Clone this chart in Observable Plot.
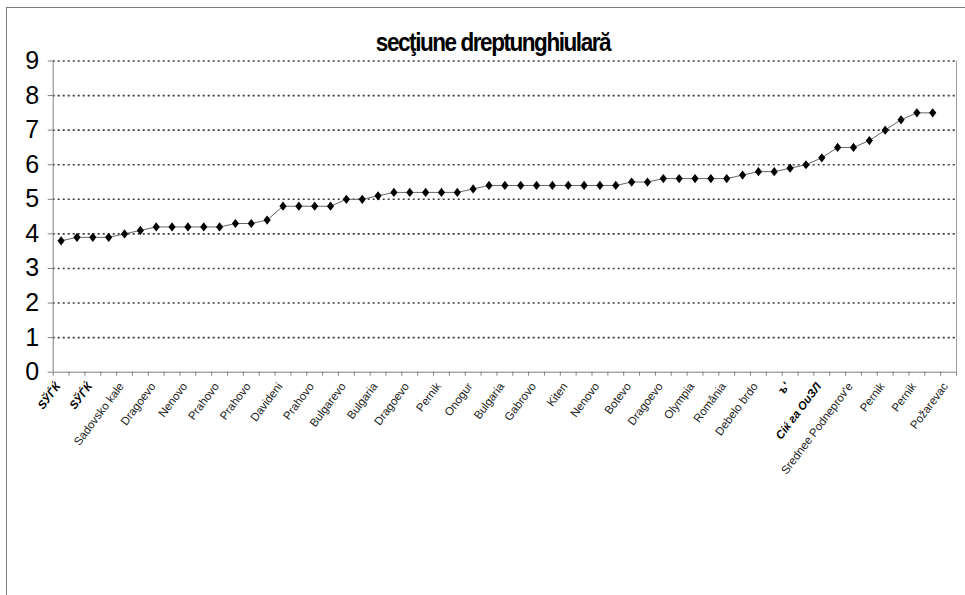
<!DOCTYPE html>
<html>
<head>
<meta charset="utf-8">
<script src="https://cdn.jsdelivr.net/npm/d3@7"></script>
<script src="https://cdn.jsdelivr.net/npm/@observablehq/plot@0.6"></script>
<style>
  html, body { margin: 0; padding: 0; background: #fff; }
  #wrap { position: relative; width: 965px; height: 595px; overflow: hidden; background: #fff; }
  #frame { position: absolute; left: 6px; top: 7px; width: 980px; height: 600px;
           border-left: 1.5px solid #7a7a7a; border-top: 1.5px solid #7a7a7a; box-sizing: border-box; }
  #title { position: absolute; left: 0; width: 986px; top: 30px; text-align: center;
           font-family: "Liberation Sans", Arial, sans-serif;
           font-weight: bold; font-size: 25px; letter-spacing: -1.6px; color: #000; line-height: 1;
           transform: scaleX(0.9); transform-origin: 493px 0; }
  #chart { position: absolute; left: 0; top: 0; }
</style>
</head>
<body>
<div id="wrap">
  <div id="frame"></div>
  <div id="chart"></div>
  <div id="title">secţiune dreptunghiulară</div>
</div>
<script>
// 57 categories; the last one has no value
const values = [
  3.8, 3.9, 3.9, 3.9, 4.0, 4.1, 4.2, 4.2, 4.2, 4.2,
  4.2, 4.3, 4.3, 4.4, 4.8, 4.8, 4.8, 4.8, 5.0, 5.0,
  5.1, 5.2, 5.2, 5.2, 5.2, 5.2, 5.3, 5.4, 5.4, 5.4,
  5.4, 5.4, 5.4, 5.4, 5.4, 5.4, 5.5, 5.5, 5.6, 5.6,
  5.6, 5.6, 5.6, 5.7, 5.8, 5.8, 5.9, 6.0, 6.2, 6.5,
  6.5, 6.7, 7.0, 7.3, 7.5, 7.5, null
];

// labels shown on every other category (1st, 3rd, 5th, ... 57th)
const tickLabels = [
  "ЅЎЃЌ", "ЅЎЃЌ", "Sadovsko kale", "Dragoevo", "Nenovo", "Prahovo", "Prahovo",
  "Davideni", "Prahovo", "Bulgarevo", "Bulgaria", "Dragoevo", "Pernik", "Onogur",
  "Bulgaria", "Gabrovo", "Kiten", "Nenovo", "Botevo", "Dragoevo", "Olympia",
  "România", "Debelo brdo", "ъ'", "Сіќ га ОиЗЛ", "Srednee Podneprov'e",
  "Pernik", "Pernik", "Požarevac"
];
const garbled = [0, 1, 23, 24];

const yTicks = [0, 1, 2, 3, 4, 5, 6, 7, 8, 9];

const nCat = values.length;
const points = values.map((v, i) => ({i, v})).filter(d => d.v != null);
const labels = tickLabels.map((name, k) => ({i: k * 2, name, bold: garbled.includes(k)}));

const diamond = {
  draw(ctx, size) {
    const s = Math.sqrt(size);
    const h = s * 0.5, w = s * 0.39;
    ctx.moveTo(0, -h); ctx.lineTo(w, 0); ctx.lineTo(0, h); ctx.lineTo(-w, 0); ctx.closePath();
  }
};

const labelOpts = {
  x: d => d.i + 0.5, text: "name", frameAnchor: "bottom",
  rotate: -53, textAnchor: "end", lineAnchor: "middle",
  dx: -3, dy: 12, fontSize: 11.5, fill: "#222"
};

const chart = Plot.plot({
  width: 965,
  height: 595,
  marginTop: 60.5,
  marginBottom: 223.3,
  marginLeft: 52.7,
  marginRight: 9,
  style: {fontFamily: "'Liberation Sans', Arial, sans-serif", background: "transparent"},
  x: {type: "linear", domain: [0, nCat], axis: null},
  y: {domain: [0, 9], axis: null},
  marks: [
    Plot.gridY(yTicks.filter(t => t > 0), {stroke: "#3a3a3a", strokeOpacity: 1, strokeWidth: 1.6, strokeDasharray: "2,3"}),
    Plot.ruleX([nCat], {stroke: "#a0a0a0", strokeWidth: 1}),
    Plot.ruleX([0], {stroke: "#808080", strokeWidth: 1}),
    Plot.ruleY([0], {stroke: "#808080", strokeWidth: 1}),
    Plot.axisY(yTicks, {label: null, tickSize: 5, tickPadding: 9, fontSize: 25, stroke: "#808080", fill: "#000", tickFormat: d => String(d)}),
    Plot.axisX(d3.range(nCat + 1), {label: null, tickSize: 4, stroke: "#808080", tickFormat: () => ""}),
    Plot.line(points, {x: d => d.i + 0.5, y: "v", stroke: "#666", strokeWidth: 1}),
    Plot.dot(points, {x: d => d.i + 0.5, y: "v", symbol: diamond, r: 5.2, fill: "#000", stroke: "none"}),
    Plot.text(labels.filter(d => !d.bold), labelOpts),
    Plot.text(labels.filter(d => d.bold), {...labelOpts, fontWeight: "bold", fontStyle: "italic", fill: "#000"})
  ]
});

document.getElementById("chart").appendChild(chart);
</script>
</body>
</html>
